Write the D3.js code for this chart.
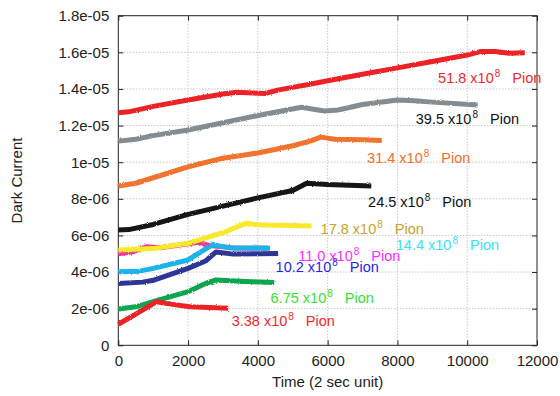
<!DOCTYPE html>
<html>
<head>
<meta charset="utf-8">
<script src="https://cdn.jsdelivr.net/npm/d3@7"></script>
<style>
  body { margin: 0; background: #fff; }
  svg { font-family: "Liberation Sans", Arial, sans-serif; }
</style>
</head>
<body>
<div id="chart"></div>
<script>
// time in 2 sec units, current in units of 1e-6
const xTicks = [0, 2000, 4000, 6000, 8000, 10000, 12000];
const yTicks = [0, 2e-6, 4e-6, 6e-6, 8e-6, 1e-5, 1.2e-5, 1.4e-5, 1.6e-5, 1.8e-5];
const yTickLabels = ["0", "2e-06", "4e-06", "6e-06", "8e-06", "1e-05", "1.2e-05", "1.4e-05", "1.6e-05", "1.8e-05"];

const pion518 = [[0,12.7],[300,12.75],[1000,13.05],[2000,13.4],[3000,13.72],[3400,13.82],[4200,13.75],[4600,13.95],[5600,14.3],[6000,14.45],[7000,14.8],[8000,15.15],[9000,15.5],[10000,15.85],[10400,16.05],[10800,16.05],[11200,15.95],[11650,15.97]];
const pion395 = [[0,11.15],[500,11.25],[1000,11.45],[2000,11.76],[3000,12.15],[4000,12.55],[5250,13.0],[5900,12.8],[6300,12.85],[7000,13.15],[8000,13.4],[8500,13.35],[9000,13.28],[10300,13.12]];
const pion314 = [[0,8.7],[500,8.85],[1000,9.15],[2000,9.75],[3000,10.22],[4000,10.5],[5000,10.9],[5500,11.15],[5800,11.37],[6200,11.25],[7000,11.22],[7550,11.18]];
const pion245 = [[0,6.3],[300,6.32],[1000,6.6],[2000,7.15],[3000,7.6],[4000,8.05],[5000,8.45],[5400,8.85],[6000,8.78],[7250,8.7]];
const pion178 = [[0,5.2],[1000,5.28],[2000,5.57],[3000,6.15],[3650,6.66],[4000,6.58],[5540,6.52]];
const pion144 = [[0,4.02],[600,4.05],[1000,4.2],[2000,4.66],[2700,5.5],[3200,5.32],[4000,5.32],[4350,5.3]];
const pion110 = [[0,5.0],[400,5.1],[800,5.38],[1200,5.33],[2000,5.55],[2300,5.62],[2600,5.45],[3300,5.32],[4300,5.3]];
const pion102 = [[0,3.38],[700,3.45],[1000,3.55],[2000,4.2],[2500,4.6],[2800,5.1],[3300,4.98],[4000,5.0],[4580,5.02]];
const pion675 = [[0,1.98],[500,2.1],[1000,2.38],[2000,2.93],[2500,3.38],[2800,3.57],[3500,3.5],[4470,3.43]];
const pion338 = [[0,1.15],[500,1.7],[1100,2.38],[1500,2.25],[2050,2.1],[3150,2.02]];

// label text and anchor (x in time units, y in 1e-6)
const series = [
  { name: "11.0", data: pion110, line: "#ec3a96", text: "#ff2cff", at: [5155, 4.62] },
  { name: "17.8", data: pion178, line: "#f7ea2a", text: "#c9a22c", at: [5797, 6.08] },
  { name: "14.4", data: pion144, line: "#1cb3ea", text: "#35e4f7", at: [7953, 5.20] },
  { name: "10.2", data: pion102, line: "#2e3595", text: "#2626e6", at: [4508, 4.02] },
  { name: "6.75", data: pion675, line: "#0da54d", text: "#37e034", at: [4365, 2.29] },
  { name: "3.38", data: pion338, line: "#ec2227", text: "#f0282d", at: [3248, 1.05] },
  { name: "24.5", data: pion245, line: "#141414", text: "#111111", at: [7160, 7.54] },
  { name: "31.4", data: pion314, line: "#f1732f", text: "#f2702a", at: [7131, 9.94] },
  { name: "39.5", data: pion395, line: "#848b91", text: "#111111", at: [8526, 12.1] },
  { name: "51.8", data: pion518, line: "#ec2227", text: "#f0282d", at: [9165, 14.34] }
];

const W = 560, H = 396;
const margin = { top: 15.7, right: 23, bottom: 50.7, left: 118.3 };
const width = W - margin.left - margin.right;
const height = H - margin.top - margin.bottom;

const svg = d3.select("#chart").append("svg")
  .attr("width", W)
  .attr("height", H);

const defs = svg.append("defs");
const rough = defs.append("filter").attr("id", "rough")
  .attr("x", "-5%").attr("y", "-20%").attr("width", "110%").attr("height", "140%");
rough.append("feTurbulence").attr("type", "fractalNoise").attr("baseFrequency", 0.9).attr("numOctaves", 2).attr("seed", 3).attr("result", "n");
rough.append("feDisplacementMap").attr("in", "SourceGraphic").attr("in2", "n").attr("scale", 2.2);

const g = svg.append("g").attr("transform", `translate(${margin.left},${margin.top})`);

const x = d3.scaleLinear().domain([0, 12000]).range([0, width]);
const y = d3.scaleLinear().domain([0, 1.8e-5]).range([height, 0]);

// grid
g.append("g").selectAll("line.gx")
  .data(xTicks.slice(1, -1))
  .join("line")
  .attr("x1", d => x(d)).attr("x2", d => x(d))
  .attr("y1", 0).attr("y2", height)
  .attr("stroke", "#9a9a9a").attr("stroke-width", 0.8).attr("stroke-dasharray", "1,2");
g.append("g").selectAll("line.gy")
  .data(yTicks.slice(1, -1))
  .join("line")
  .attr("x1", 0).attr("x2", width)
  .attr("y1", d => y(d)).attr("y2", d => y(d))
  .attr("stroke", "#9a9a9a").attr("stroke-width", 0.8).attr("stroke-dasharray", "1,2");

// axes
const fmtY = d => yTickLabels[yTicks.indexOf(d)];
const ax = [
  g.append("g").attr("transform", `translate(0,${height})`)
    .call(d3.axisBottom(x).tickValues(xTicks).tickSize(-5).tickPadding(10).tickFormat(d3.format("d"))),
  g.append("g")
    .call(d3.axisLeft(y).tickValues(yTicks).tickSize(-5).tickPadding(9).tickFormat(fmtY)),
  g.append("g").attr("transform", `translate(${width},0)`)
    .call(d3.axisRight(y).tickValues(yTicks).tickSize(-5).tickFormat("")),
  g.append("g")
    .call(d3.axisTop(x).tickValues(xTicks).tickSize(-5).tickFormat(""))
];
ax.forEach(a => {
  a.select(".domain").remove();
  a.selectAll(".tick line").attr("stroke", "#222");
  a.selectAll("text").attr("font-size", 15).attr("fill", "#222")
    .attr("font-family", "'Liberation Sans', Arial, sans-serif");
});

g.append("rect")
  .attr("width", width).attr("height", height)
  .attr("fill", "none").attr("stroke", "#222").attr("stroke-width", 1);

// lines
const line = d3.line()
  .x(d => x(d[0]))
  .y(d => y(d[1] * 1e-6));

g.append("g").attr("filter", "url(#rough)")
  .selectAll("path")
  .data(series)
  .join("path")
  .attr("d", d => line(d.data))
  .attr("fill", "none")
  .attr("stroke", d => d.line)
  .attr("stroke-width", 5)
  .attr("stroke-linejoin", "round");

// labels
const lbl = g.append("g").selectAll("text")
  .data(series)
  .join("text")
  .attr("x", d => x(d.at[0]))
  .attr("y", d => y(d.at[1] * 1e-6))
  .attr("fill", d => d.text)
  .attr("font-size", 14.5);
lbl.append("tspan").text(d => d.name + " x10");
lbl.append("tspan").attr("font-size", 10).attr("dx", 1).attr("dy", -6).text("8");
lbl.append("tspan").attr("dy", 6).attr("dx", 12).text("Pion");

// axis titles
svg.append("text")
  .attr("x", margin.left + width / 2)
  .attr("y", 387)
  .attr("text-anchor", "middle")
  .attr("font-size", 15)
  .attr("fill", "#222")
  .text("Time (2 sec unit)");

svg.append("text")
  .attr("transform", `translate(22,${margin.top + height / 2}) rotate(-90)`)
  .attr("text-anchor", "middle")
  .attr("font-size", 15)
  .attr("fill", "#222")
  .text("Dark Current");
</script>
</body>
</html>
